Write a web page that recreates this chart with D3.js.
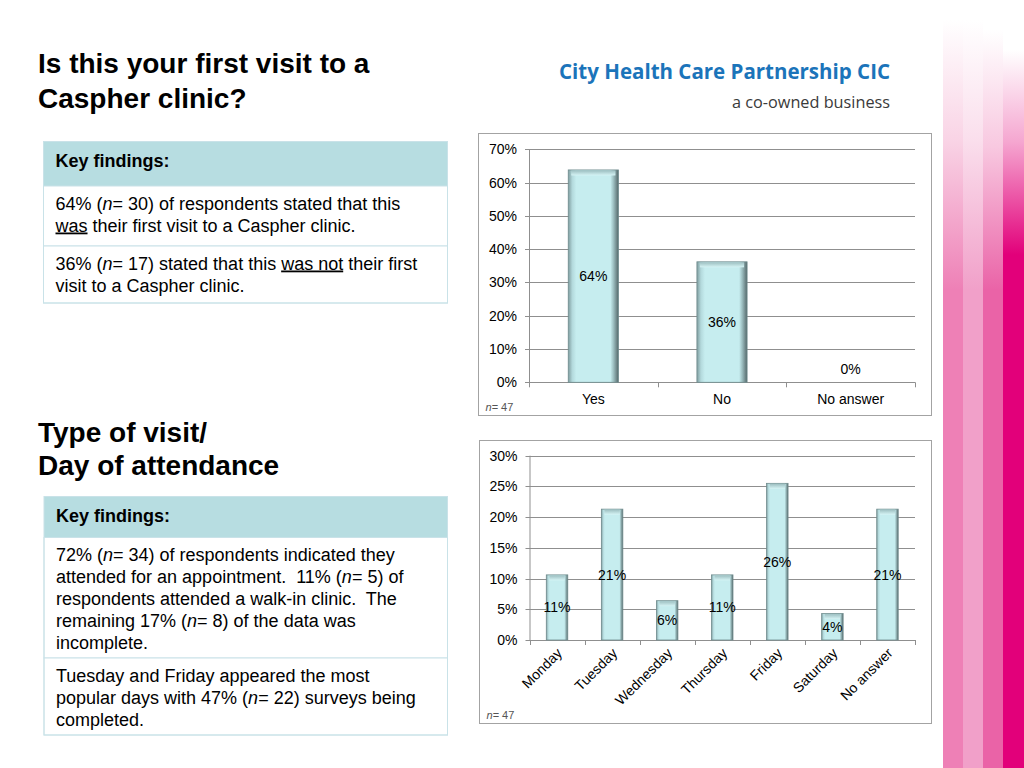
<!DOCTYPE html>
<html>
<head>
<meta charset="utf-8">
<script src="https://cdn.jsdelivr.net/npm/d3@7"></script>
<style>
  html, body { margin: 0; padding: 0; background: #fff; }
  svg { display: block; font-family: "Liberation Sans", Arial, sans-serif; }
  text { white-space: pre; }
</style>
</head>
<body>
<svg id="slide" width="1024" height="768"></svg>
<script>
// Daten: erste Frage
const visitCategories = ["Yes", "No", "No answer"];
const visitValues = [63.8, 36.2, 0];
const visitLabels = ["64%", "36%", "0%"];
const visitTicks = [0, 10, 20, 30, 40, 50, 60, 70];

// Daten: Wochentag
const dayCategories = ["Monday", "Tuesday", "Wednesday", "Thursday", "Friday", "Saturday", "No answer"];
const dayValues = [10.6, 21.3, 6.4, 10.6, 25.5, 4.3, 21.3];
const dayLabels = ["11%", "21%", "6%", "11%", "26%", "4%", "21%"];
const dayTicks = [0, 5, 10, 15, 20, 25, 30];

const svg = d3.select("#slide");
const defs = svg.append("defs");

// pinke Streifen rechts
const stripes = [
  {x: 943, w: 20, c: "#ee80b6", y0: 20, y1: 290},
  {x: 963, w: 20, c: "#f1a0c9", y0: 20, y1: 290},
  {x: 983, w: 20, c: "#ea63a7", y0: 30, y1: 290},
  {x: 1003, w: 21, c: "#e2007a", y0: 50, y1: 255}
];
stripes.forEach(function(s, i) {
  const g = defs.append("linearGradient")
    .attr("id", "stripe" + i)
    .attr("gradientUnits", "userSpaceOnUse")
    .attr("x1", 0).attr("y1", s.y0).attr("x2", 0).attr("y2", s.y1);
  g.append("stop").attr("offset", 0).attr("stop-color", "#fff");
  g.append("stop").attr("offset", 0.45).attr("stop-color", d3.interpolateRgb("#fff", s.c)(0.35));
  g.append("stop").attr("offset", 1).attr("stop-color", s.c);
  svg.append("rect")
    .attr("x", s.x).attr("y", 0)
    .attr("width", s.w).attr("height", 768)
    .attr("fill", "url(#stripe" + i + ")");
});

// Balken-Verlauf (Bevel-Effekt)
const barGrad = defs.append("linearGradient").attr("id", "barGrad")
  .attr("x1", 0).attr("y1", 0).attr("x2", 1).attr("y2", 0);
[[0, "#7f9c9e"], [0.08, "#b3d9dc"], [0.16, "#c6edef"], [0.84, "#c6edef"], [0.9, "#9ec0c2"], [1, "#55696b"]]
  .forEach(function(s) { barGrad.append("stop").attr("offset", s[0]).attr("stop-color", s[1]); });
const capGrad = defs.append("linearGradient").attr("id", "capGrad")
  .attr("x1", 0).attr("y1", 0).attr("x2", 0).attr("y2", 1);
capGrad.append("stop").attr("offset", 0).attr("stop-color", "#9dbfc1");
capGrad.append("stop").attr("offset", 1).attr("stop-color", "#d6f4f5");

// Logo-Text
svg.append("text")
  .attr("x", 890).attr("y", 79)
  .attr("text-anchor", "end")
  .attr("textLength", 331).attr("lengthAdjust", "spacingAndGlyphs")
  .style("font-family", "'Open Sans', sans-serif")
  .style("font-weight", 700).style("font-size", "21px")
  .attr("fill", "#1b74ba")
  .text("City Health Care Partnership CIC");
svg.append("text")
  .attr("x", 890).attr("y", 108)
  .attr("text-anchor", "end")
  .attr("textLength", 158).attr("lengthAdjust", "spacingAndGlyphs")
  .style("font-family", "'Open Sans', sans-serif")
  .style("font-size", "17px")
  .attr("fill", "#3a3a3a")
  .text("a co-owned business");

// Titel
function title(lines, x, ys) {
  lines.forEach(function(t, i) {
    svg.append("text")
      .attr("x", x).attr("y", ys[i])
      .style("font-size", "28px").style("font-weight", "bold")
      .attr("fill", "#000")
      .text(t);
  });
}
title(["Is this your first visit to a", "Caspher clinic?"], 38, [73, 108]);
title(["Type of visit/", "Day of attendance"], 38, [442, 475]);

// Tabellen mit Key findings
function table(x, w, headerTop, headerBottom, rows) {
  const g = svg.append("g");
  g.append("rect")
    .attr("x", x).attr("y", headerTop)
    .attr("width", w).attr("height", headerBottom - headerTop)
    .attr("fill", "#b7dde1");
  g.append("text")
    .attr("x", x + 12).attr("y", headerTop + 25)
    .style("font-size", "18px").style("font-weight", "bold")
    .text("Key findings:");
  let top = headerBottom;
  rows.forEach(function(r) {
    g.append("rect")
      .attr("x", x).attr("y", top)
      .attr("width", w).attr("height", r.bottom - top)
      .attr("fill", "#fff")
      .attr("stroke", "#c9e2e8").attr("stroke-width", 1);
    r.lines.forEach(function(segs, i) {
      const t = g.append("text")
        .attr("x", x + 12).attr("y", top + 23.5 + i * 22)
        .style("font-size", "18px").attr("fill", "#000");
      segs.forEach(function(s) {
        const sp = t.append("tspan").text(s[0]);
        if (s[1] === "i") sp.style("font-style", "italic");
        if (s[1] === "u") sp.style("text-decoration", "underline");
      });
    });
    top = r.bottom;
  });
  g.append("rect")
    .attr("x", x).attr("y", headerTop)
    .attr("width", w).attr("height", top - headerTop)
    .attr("fill", "none").attr("stroke", "#c9e2e8");
}

table(43.5, 404, 141.5, 186, [
  {bottom: 246, lines: [
    [["64% ("], ["n", "i"], ["= 30) of respondents stated that this"]],
    [["was", "u"], [" their first visit to a Caspher clinic."]]
  ]},
  {bottom: 303, lines: [
    [["36% ("], ["n", "i"], ["= 17) stated that this "], ["was not", "u"], [" their first"]],
    [["visit to a Caspher clinic."]]
  ]}
]);

table(44, 403.5, 496.5, 537.5, [
  {bottom: 658, lines: [
    [["72% ("], ["n", "i"], ["= 34) of respondents indicated they"]],
    [["attended for an appointment.  11% ("], ["n", "i"], ["= 5) of"]],
    [["respondents attended a walk-in clinic.  The"]],
    [["remaining 17% ("], ["n", "i"], ["= 8) of the data was"]],
    [["incomplete."]]
  ]},
  {bottom: 735, lines: [
    [["Tuesday and Friday appeared the most"]],
    [["popular days with 47% ("], ["n", "i"], ["= 22) surveys being"]],
    [["completed."]]
  ]}
]);

// Balkendiagramm zeichnen
function barChart(cfg) {
  const g = svg.append("g");
  g.append("rect")
    .attr("x", cfg.box[0]).attr("y", cfg.box[1])
    .attr("width", cfg.box[2]).attr("height", cfg.box[3])
    .attr("fill", "#fff").attr("stroke", "#a3a3a3");

  const x = d3.scaleBand().domain(cfg.categories).range([cfg.left, cfg.right]).paddingInner(0).paddingOuter(0);
  const y = d3.scaleLinear().domain([0, d3.max(cfg.ticks)]).range([cfg.bottom, cfg.top]);

  // Gitterlinien
  g.selectAll(".grid").data(cfg.ticks).enter().append("line")
    .attr("x1", cfg.left - 4).attr("x2", cfg.right)
    .attr("y1", function(d) { return Math.round(y(d)) + 0.5; })
    .attr("y2", function(d) { return Math.round(y(d)) + 0.5; })
    .attr("stroke", "#8f8f8f");
  g.append("line")
    .attr("x1", cfg.left + 0.5).attr("x2", cfg.left + 0.5)
    .attr("y1", y(d3.max(cfg.ticks))).attr("y2", cfg.bottom)
    .attr("stroke", "#8f8f8f");
  // Striche an der x-Achse
  const edges = cfg.categories.map(function(c) { return x(c); }).concat([cfg.right]);
  g.selectAll(".xtick").data(edges).enter().append("line")
    .attr("x1", function(d) { return Math.round(d) + 0.5; })
    .attr("x2", function(d) { return Math.round(d) + 0.5; })
    .attr("y1", cfg.bottom).attr("y2", cfg.bottom + 5)
    .attr("stroke", "#8f8f8f");

  // Achsenbeschriftung
  g.selectAll(".ylab").data(cfg.ticks).enter().append("text")
    .attr("x", cfg.left - 12).attr("y", function(d) { return y(d) + 5; })
    .attr("text-anchor", "end")
    .style("font-size", "14px")
    .text(function(d) { return d + "%"; });

  // Balken
  const bw = x.bandwidth() * 0.39;
  const bars = g.selectAll(".bar").data(cfg.values).enter().append("g");
  bars.append("rect")
    .attr("x", function(d, i) { return x(cfg.categories[i]) + (x.bandwidth() - bw) / 2; })
    .attr("y", function(d) { return y(d); })
    .attr("width", bw)
    .attr("height", function(d) { return cfg.bottom - y(d); })
    .attr("fill", "url(#barGrad)")
    .attr("stroke", function(d) { return d > 0 ? "#6f8c8e" : "none"; })
    .attr("stroke-width", 0.8);
  bars.append("rect")
    .attr("x", function(d, i) { return x(cfg.categories[i]) + (x.bandwidth() - bw) / 2 + 3; })
    .attr("y", function(d) { return y(d) + 0.5; })
    .attr("width", bw - 6)
    .attr("height", function(d) { return d > 0 ? 5 : 0; })
    .attr("fill", "url(#capGrad)");

  // Werte
  g.selectAll(".val").data(cfg.values).enter().append("text")
    .attr("x", function(d, i) { return x(cfg.categories[i]) + x.bandwidth() / 2; })
    .attr("y", function(d) { return Math.min((y(d) + cfg.bottom) / 2, cfg.bottom - 13) + 5; })
    .attr("text-anchor", "middle")
    .style("font-size", "14px")
    .text(function(d, i) { return cfg.labels[i]; });

  // Kategorien
  const cat = g.selectAll(".cat").data(cfg.categories).enter().append("text")
    .style("font-size", "14px");
  if (cfg.rotate) {
    cat.attr("text-anchor", "end")
      .attr("transform", function(d) {
        return "translate(" + (x(d) + x.bandwidth() / 2 + 6) + "," + (cfg.bottom + 14) + ") rotate(-45)";
      })
      .text(function(d) { return d; });
  } else {
    cat.attr("text-anchor", "middle")
      .attr("x", function(d) { return x(d) + x.bandwidth() / 2; })
      .attr("y", cfg.bottom + 22)
      .text(function(d) { return d; });
  }

  // n = 47
  const n = g.append("text")
    .attr("x", cfg.box[0] + 7).attr("y", cfg.box[1] + cfg.box[3] - 5)
    .style("font-size", "11px").attr("fill", "#555");
  n.append("tspan").style("font-style", "italic").text("n");
  n.append("tspan").text("= 47");
}

barChart({
  box: [478.5, 133.5, 453, 282],
  left: 529, right: 915, top: 149.3, bottom: 382.3,
  categories: visitCategories, values: visitValues, labels: visitLabels, ticks: visitTicks,
  rotate: false
});

barChart({
  box: [479.5, 440.5, 452, 283],
  left: 529.5, right: 915, top: 455.7, bottom: 640,
  categories: dayCategories, values: dayValues, labels: dayLabels, ticks: dayTicks,
  rotate: true
});
</script>
</body>
</html>
